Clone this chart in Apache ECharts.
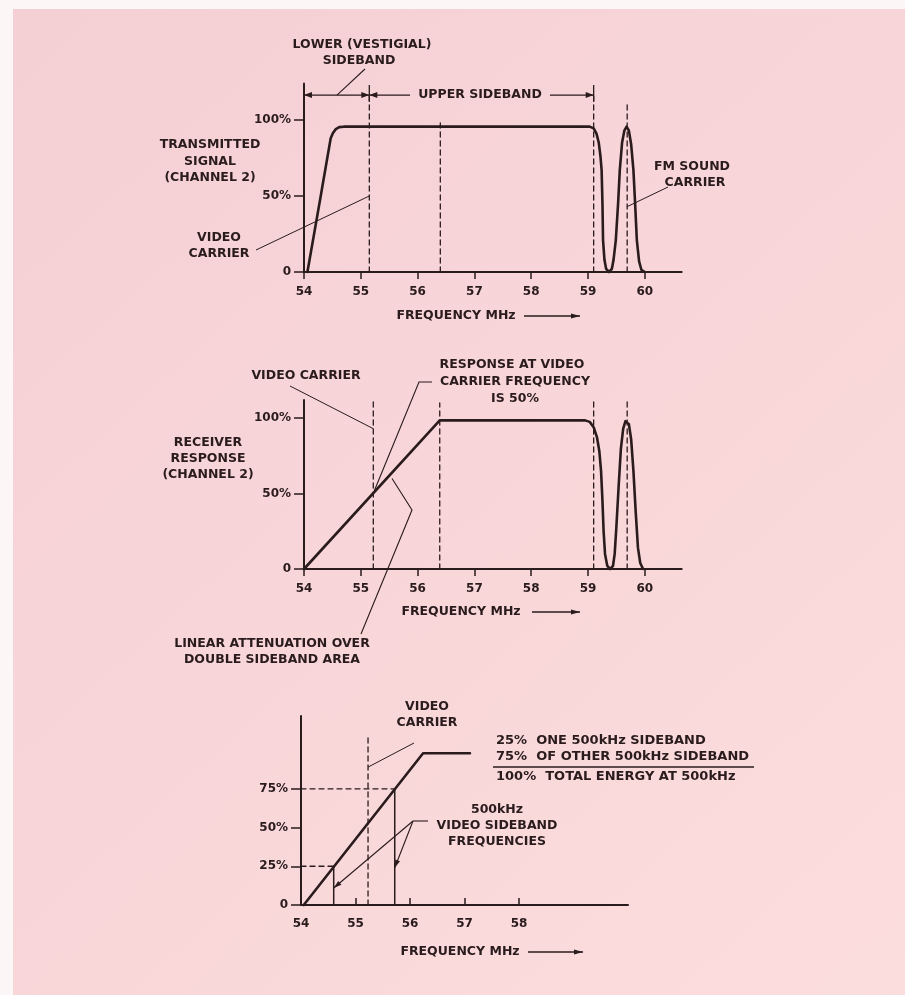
<!DOCTYPE html>
<html><head><meta charset="utf-8">
<script src="https://cdn.jsdelivr.net/npm/echarts@6/dist/echarts.min.js"></script>
<style>html,body{margin:0;padding:0;background:#fff}#c{width:905px;height:995px}</style>
</head><body><div id="c"></div>
<script>
// ---------- data ----------
const xTicksFull = [54, 55, 56, 57, 58, 59, 60];
const xTicksShort = [54, 55, 56, 57, 58];
const yTicksPct = [0, 50, 100];
const yTicksQuarter = [0, 25, 50, 75];

// transmitted signal (channel 2)
const txFreq  = [54.06, 54.29, 54.47, 54.51, 54.56, 54.62, 54.7, 59.03, 59.1, 59.15, 59.19, 59.22, 59.24, 59.255, 59.265, 59.29, 59.32, 59.37, 59.42, 59.45, 59.49, 59.53, 59.56, 59.6, 59.64, 59.68, 59.72, 59.76, 59.8, 59.83, 59.86, 59.9, 59.94, 60.0];
const txLevel = [0, 49, 88, 91.5, 94, 95.3, 95.6, 95.6, 94.5, 91, 85, 76, 67, 45, 21, 8, 2, 0, 2, 8, 21, 45, 67, 85, 93, 95.6, 93, 84, 67, 45, 21, 7, 1.5, 0];

// receiver response (channel 2)
const rxFreq  = [54.0, 56.39, 58.95, 59.03, 59.1, 59.16, 59.2, 59.23, 59.255, 59.275, 59.3, 59.34, 59.39, 59.44, 59.47, 59.5, 59.54, 59.58, 59.62, 59.66, 59.69, 59.72, 59.76, 59.8, 59.84, 59.88, 59.92, 59.97];
const rxLevel = [0, 98.5, 98.5, 97.5, 94, 87, 78, 65, 45, 25, 10, 2, 0, 2, 10, 28, 55, 80, 93, 98, 98.5, 96, 86, 65, 38, 14, 4, 0];

// linear attenuation detail
const attFreq  = [54.05, 56.24, 57.1];
const attLevel = [0, 98, 98];

// dashed reference frequencies and their upper ends
const txMarkFreq = [55.15, 56.4, 59.1, 59.69];
const txMarkTop  = [116, 100, 116, 111];
const rxMarkFreq = [55.22, 56.39, 59.1, 59.69];
const rxMarkTop  = [112, 110, 112, 112];
const attCarrierFreq = 55.23;
const attCarrierTop = 110;
const sidebandFreq  = [54.6, 55.72];
const sidebandLevel = [25, 75];
const bracketFreq = [54, 55.15, 59.1];
const bracketLevel = 116.4;

// ---------- chart ----------
const INK = '#2a1b1d';
const FONT = '"DejaVu Sans", sans-serif';
const chart = echarts.init(document.getElementById('c'), null, {renderer: 'canvas', width: 905, height: 995});

function xAx(gi, max, ticks, inside, margin) {
  return {
    type: 'value', gridIndex: gi, min: 54, max: max,
    axisLine: {show: true, onZero: false, lineStyle: {color: INK, width: 2}},
    axisTick: {show: true, customValues: ticks, inside: inside, length: 7, lineStyle: {color: INK, width: 1.5}},
    axisLabel: {show: true, customValues: ticks, margin: margin, color: INK, fontFamily: FONT, fontWeight: 'bold', fontSize: 12},
    splitLine: {show: false}
  };
}
function yAx(gi, max, ticks) {
  return {
    type: 'value', gridIndex: gi, min: 0, max: max,
    axisLine: {show: true, onZero: false, lineStyle: {color: INK, width: 2}},
    axisTick: {show: true, customValues: ticks, length: 10, lineStyle: {color: INK, width: 1.5}},
    axisLabel: {show: true, customValues: ticks, margin: 13, color: INK, fontFamily: FONT, fontWeight: 'bold', fontSize: 12,
      formatter: v => v === 0 ? '0' : v + '%'},
    splitLine: {show: false}
  };
}
function ser(gi, data, width, dashed) {
  return {type: 'line', xAxisIndex: gi, yAxisIndex: gi, data: data, symbol: 'none', showSymbol: false,
    smooth: false, silent: true, clip: false, z: 3,
    lineStyle: {color: INK, width: width, type: dashed ? [5, 4] : 'solid', cap: 'round', join: 'round'}};
}
const zip = (a, b) => a.map((v, i) => [v, b[i]]);

const series = [
  ser(0, zip(txFreq, txLevel), 2.6, false),
  ser(1, zip(rxFreq, rxLevel), 2.6, false),
  ser(2, zip(attFreq, attLevel), 2.6, false)
];
txMarkFreq.forEach((f, i) => series.push(ser(0, [[f, 0], [f, txMarkTop[i]]], 1.3, true)));
rxMarkFreq.forEach((f, i) => series.push(ser(1, [[f, 0], [f, rxMarkTop[i]]], 1.3, true)));
series.push(ser(2, [[attCarrierFreq, 0], [attCarrierFreq, attCarrierTop]], 1.3, true));
sidebandFreq.forEach((f, i) => {
  series.push(ser(2, [[54, sidebandLevel[i]], [f, sidebandLevel[i]]], 1.3, true));
  series.push(ser(2, [[f, 0], [f, sidebandLevel[i]]], 1.5, false));
});

chart.setOption({
  animation: false,
  backgroundColor: {type: 'linear', x: 0, y: 0, x2: 1, y2: 1,
    colorStops: [{offset: 0, color: '#f4cfd4'}, {offset: 1, color: '#fcdddd'}]},
  grid: [
    {left: 304, top: 83.5, width: 377.7, height: 188.5, containLabel: false},
    {left: 304, top: 400, width: 377.7, height: 169, containLabel: false},
    {left: 301, top: 716, width: 327, height: 189, containLabel: false}
  ],
  xAxis: [xAx(0, 60.65, xTicksFull, false, 14), xAx(1, 60.65, xTicksFull, false, 14), xAx(2, 60, xTicksShort, true, 13)],
  yAxis: [yAx(0, 124, yTicksPct), yAx(1, 112, yTicksPct), yAx(2, 122, yTicksQuarter)],
  series: series
});

// ---------- annotations ----------
const P = (g, x, y) => chart.convertToPixel({gridIndex: g}, [x, y]);
const els = [];
els.push({type: 'rect', shape: {x: 0, y: 0, width: 905, height: 9}, style: {fill: '#fdf6f6'}, z: -5, silent: true});
els.push({type: 'rect', shape: {x: 0, y: 0, width: 13, height: 995}, style: {fill: '#fdf6f6'}, z: -5, silent: true});
function txt(x, y, s, align, size) {
  const a = align || 'center';
  els.push({type: 'text', x: x, y: y, z: 10, silent: true,
    style: {text: s, font: 'bold ' + (size || 12.5) + 'px ' + FONT, fill: INK,
      align: a, verticalAlign: 'middle', textAlign: a, textVerticalAlign: 'middle'}});
}
function seg(pts, w) {
  els.push({type: 'polyline', z: 10, silent: true, shape: {points: pts}, style: {stroke: INK, lineWidth: w || 1.2, fill: null}});
}
function head(from, to, len, wid) {
  len = len || 8; wid = wid || 3;
  const dx = to[0] - from[0], dy = to[1] - from[1], L = Math.hypot(dx, dy), ux = dx / L, uy = dy / L;
  const bx = to[0] - ux * len, by = to[1] - uy * len;
  els.push({type: 'polygon', z: 10, silent: true,
    shape: {points: [to, [bx - uy * wid, by + ux * wid], [bx + uy * wid, by - ux * wid]]}, style: {fill: INK}});
}
function arrowRight(x1, x2, y) { seg([[x1, y], [x2, y]], 1.3); head([x1, y], [x2, y], 9, 2.5); }

// top chart
const b0 = P(0, bracketFreq[0], bracketLevel), b1 = P(0, bracketFreq[1], bracketLevel), b2 = P(0, bracketFreq[2], bracketLevel);
seg([b0, b1], 1.3); head(b1, b0, 8, 3); head(b0, b1, 8, 3);
seg([b1, [410, b1[1]]], 1.3); head([410, b1[1]], b1, 8, 3);
seg([[550, b2[1]], b2], 1.3); head([550, b2[1]], b2, 8, 3);
[bracketFreq[1], bracketFreq[2]].forEach(f => seg([P(0, f, 112), P(0, f, 123)], 1.3));
txt(480, b1[1], 'UPPER SIDEBAND');
txt(362, 45, 'LOWER (VESTIGIAL)');
txt(359, 61, 'SIDEBAND');
seg([[365, 69], P(0, 54.58, bracketLevel)], 1.1);
txt(210, 145, 'TRANSMITTED'); txt(210, 162, 'SIGNAL'); txt(210, 178, '(CHANNEL 2)');
txt(219, 238, 'VIDEO'); txt(219, 254, 'CARRIER');
seg([[256, 250], P(0, txMarkFreq[0], 50)], 1.0);
txt(692, 167, 'FM SOUND'); txt(695, 183, 'CARRIER');
seg([[668, 187], P(0, txMarkFreq[3], 43)], 1.0);
txt(456, 316, 'FREQUENCY MHz'); arrowRight(524, 580, 316);

// middle chart
txt(306, 376, 'VIDEO CARRIER');
seg([[290, 386], P(1, rxMarkFreq[0], 93)], 1.0);
txt(512, 365, 'RESPONSE AT VIDEO'); txt(515, 382, 'CARRIER FREQUENCY'); txt(515, 399, 'IS 50%');
seg([[432, 382], [419, 382], P(1, 55.24, 52)], 1.1);
txt(208, 443, 'RECEIVER'); txt(208, 459, 'RESPONSE'); txt(208, 475, '(CHANNEL 2)');
txt(272, 644, 'LINEAR ATTENUATION OVER'); txt(272, 660, 'DOUBLE SIDEBAND AREA');
seg([[361, 634], [412, 510], P(1, 55.55, 60)], 1.1);
txt(461, 612, 'FREQUENCY MHz'); arrowRight(532, 580, 612);

// bottom chart
txt(427, 707, 'VIDEO'); txt(427, 723, 'CARRIER');
seg([[414, 743], P(2, attCarrierFreq, 89)], 1.0);
txt(496, 741, '25%  ONE 500kHz SIDEBAND', 'left', 13);
txt(496, 757, '75%  OF OTHER 500kHz SIDEBAND', 'left', 13);
seg([[493, 767], [754, 767]], 1.5);
txt(496, 777, '100%  TOTAL ENERGY AT 500kHz', 'left', 13);
txt(497, 810, '500kHz'); txt(497, 826, 'VIDEO SIDEBAND'); txt(497, 842, 'FREQUENCIES');
seg([[428, 821], [413, 821]], 1.1);
const tipL = P(2, sidebandFreq[0], 11), tipR = P(2, sidebandFreq[1], 24);
seg([[413, 821], tipL], 1.1); head([413, 821], tipL, 8, 2.5);
seg([[413, 821], tipR], 1.1); head([413, 821], tipR, 8, 2.5);
txt(460, 952, 'FREQUENCY MHz'); arrowRight(528, 583, 952);

chart.setOption({graphic: {elements: els}});
</script>
</body></html>
